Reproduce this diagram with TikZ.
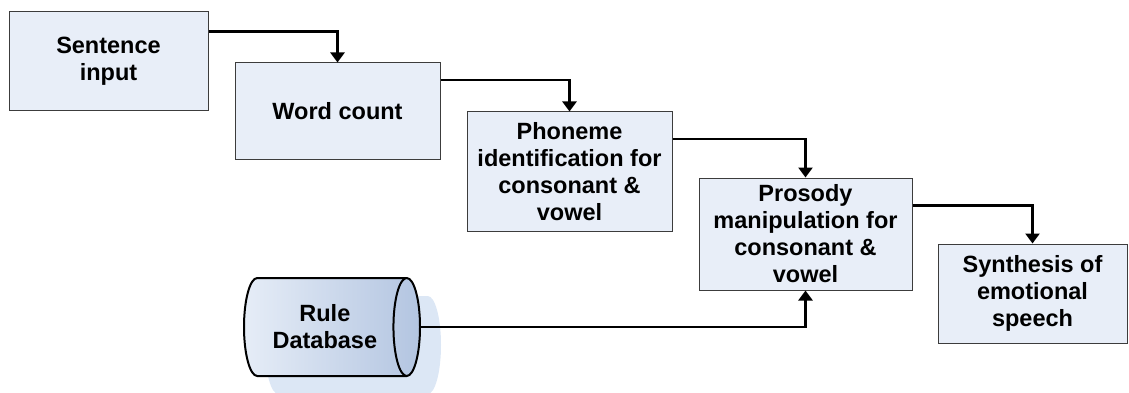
\documentclass[tikz,border=0pt]{standalone}
\usepackage{fontspec}
\setmainfont{Liberation Sans}
\usetikzlibrary{arrows.meta,calc,shapes.geometric,shadows}
\definecolor{boxfill}{HTML}{E8EEF8}
\definecolor{boxline}{HTML}{3C3C3C}
\definecolor{cylA}{HTML}{E6EDF7}
\definecolor{cylB}{HTML}{B3C5E1}
\definecolor{shadowc}{HTML}{DCE7F5}
\begin{document}
\begin{tikzpicture}[x=1pt,y=1pt,
  procbox/.style={draw=boxline,line width=1pt,fill=boxfill,inner sep=0pt,align=center,
    font=\fontsize{23.5}{27}\selectfont\bfseries},
  conn/.style={line width=2.6pt,-{Triangle[width=14pt,length=10pt]}}]
\useasboundingbox (0,0) rectangle (1129,-393);
\node[procbox,minimum width=199,minimum height=99] (sent) at (108.5,-61.5) {Sentence\\input};
\node[procbox,minimum width=205,minimum height=96] (word) at (337.5,-111) {Word count};
\node[procbox,minimum width=205,minimum height=119] (phon) at (569.5,-171.5) {Phoneme\\identification for\\consonant \&\\vowel};
\node[procbox,minimum width=213,minimum height=112] (pros) at (805.5,-234) {Prosody\\manipulation for\\consonant \&\\vowel};
\node[procbox,minimum width=189,minimum height=99] (synth) at (1032.5,-293.5) {Synthesis of\\emotional\\speech};
\node[cylinder,draw=black,line width=2pt,shape aspect=0.6,minimum height=176,minimum width=98,
  inner sep=0pt,align=center,left color=cylA,right color=cylB,anchor=west,
  drop shadow={shadow xshift=21pt,shadow yshift=-18pt,fill=shadowc,opacity=1},
  font=\fontsize{23.5}{27}\selectfont\bfseries] (db) at (243,-327) {Rule\\Database};
\draw[conn] ($(sent.north east)!0.2!(sent.south east)$) -| (word.north);
\draw[conn] ($(word.north east)!0.18!(word.south east)$) -| (phon.north);
\draw[conn] ($(phon.north east)!0.23!(phon.south east)$) -| (pros.north);
\draw[conn] ($(pros.north east)!0.25!(pros.south east)$) -| (synth.north);
\draw[conn] (db.east) -| (pros.south);
\end{tikzpicture}
\end{document}
